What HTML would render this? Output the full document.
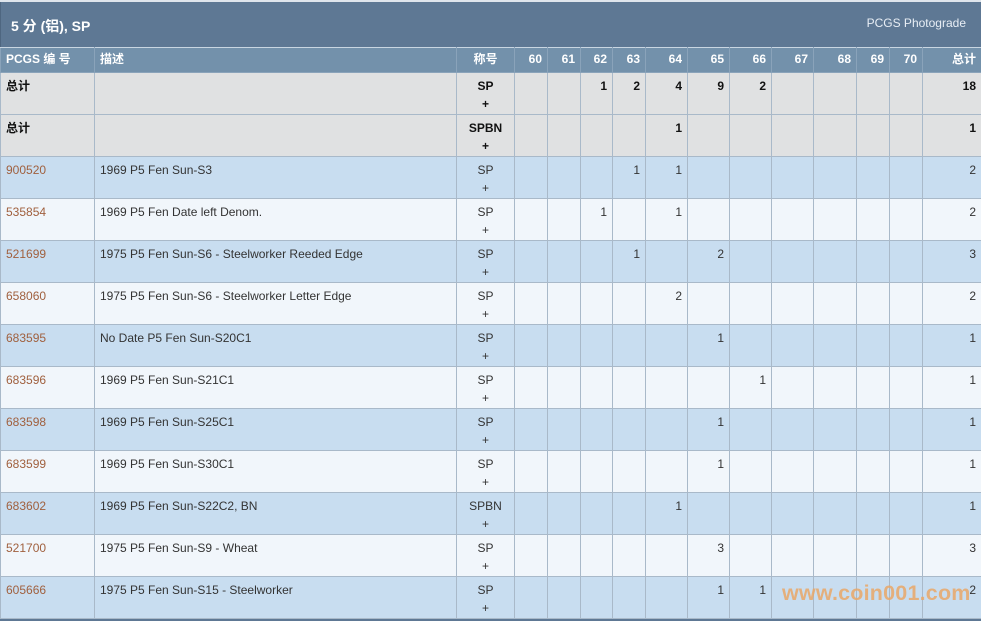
<!DOCTYPE html>
<html><head><meta charset="utf-8"><style>
body{margin:0;width:981px;height:621px;overflow:hidden;background:#fff;font-family:"Liberation Sans","Noto Sans CJK SC",sans-serif;position:relative}
.top{position:absolute;left:0;top:0;width:981px;height:2px;background:#dfe5ec}
.title{position:absolute;left:0;top:2px;width:980px;height:45px;background:#5e7894;color:#fff;border-left:1px solid #4e6680}
.title .l{position:absolute;left:10px;top:14px;font-size:14px;font-weight:bold}
.title .r{position:absolute;right:15px;top:14px;font-size:12px;color:#e8eef5}
table{position:absolute;left:0;top:47px;border-collapse:collapse;table-layout:fixed;width:981px;font-size:12px}
td,th{border:1px solid #a9b9c9;vertical-align:top;padding:4px 5px 0 5px;line-height:18px;overflow:hidden;white-space:nowrap}
th{background:#7391ab;color:#fff;height:22px;padding-top:3px;padding-bottom:0;text-align:right;border-color:#8aa3ba;border-top:1px solid #c9d6e2;box-sizing:border-box;line-height:16px}
th.l{text-align:left}th.c{text-align:center}
tr.h td{height:37px}
tr.t td{background:#e0e1e2;font-weight:bold;color:#111}
tr.a td{background:#c8ddf0;color:#333}
tr.b td{background:#f1f6fb;color:#333}
td.n{text-align:right}
td.c{text-align:center}
a{color:#a0603e;text-decoration:none}
.wm{position:absolute;left:782px;top:581px;font-size:21.5px;font-weight:bold;color:#e9a868;opacity:.85;letter-spacing:0.2px}
.bot{position:absolute;left:0;top:619px;width:981px;height:2px;background:#5e7894}
</style></head><body>
<div class="top"></div>
<div class="title"><span class="l">5 分 (铝), SP</span><span class="r">PCGS Photograde</span></div>
<table>
<colgroup><col style="width:94px"><col style="width:362px"><col style="width:58px"><col style="width:33px"><col style="width:33px"><col style="width:32px"><col style="width:33px"><col style="width:42px"><col style="width:42px"><col style="width:42px"><col style="width:42px"><col style="width:43px"><col style="width:33px"><col style="width:33px"><col style="width:59px"></colgroup>
<tr style="height:25px"><th class="l">PCGS 编 号</th><th class="l">描述</th><th class="c">称号</th><th>60</th><th>61</th><th>62</th><th>63</th><th>64</th><th>65</th><th>66</th><th>67</th><th>68</th><th>69</th><th>70</th><th>总计</th></tr>
<tr class="h t"><td>总计</td><td></td><td class="c">SP<br>+</td><td></td><td></td><td class="n">1</td><td class="n">2</td><td class="n">4</td><td class="n">9</td><td class="n">2</td><td></td><td></td><td></td><td></td><td class="n">18</td></tr>
<tr class="h t"><td>总计</td><td></td><td class="c">SPBN<br>+</td><td></td><td></td><td></td><td></td><td class="n">1</td><td></td><td></td><td></td><td></td><td></td><td></td><td class="n">1</td></tr>
<tr class="h a"><td><a>900520</a></td><td>1969 P5 Fen Sun-S3</td><td class="c">SP<br>+</td><td></td><td></td><td></td><td class="n">1</td><td class="n">1</td><td></td><td></td><td></td><td></td><td></td><td></td><td class="n">2</td></tr>
<tr class="h b"><td><a>535854</a></td><td>1969 P5 Fen Date left Denom.</td><td class="c">SP<br>+</td><td></td><td></td><td class="n">1</td><td></td><td class="n">1</td><td></td><td></td><td></td><td></td><td></td><td></td><td class="n">2</td></tr>
<tr class="h a"><td><a>521699</a></td><td>1975 P5 Fen Sun-S6 - Steelworker Reeded Edge</td><td class="c">SP<br>+</td><td></td><td></td><td></td><td class="n">1</td><td></td><td class="n">2</td><td></td><td></td><td></td><td></td><td></td><td class="n">3</td></tr>
<tr class="h b"><td><a>658060</a></td><td>1975 P5 Fen Sun-S6 - Steelworker Letter Edge</td><td class="c">SP<br>+</td><td></td><td></td><td></td><td></td><td class="n">2</td><td></td><td></td><td></td><td></td><td></td><td></td><td class="n">2</td></tr>
<tr class="h a"><td><a>683595</a></td><td>No Date P5 Fen Sun-S20C1</td><td class="c">SP<br>+</td><td></td><td></td><td></td><td></td><td></td><td class="n">1</td><td></td><td></td><td></td><td></td><td></td><td class="n">1</td></tr>
<tr class="h b"><td><a>683596</a></td><td>1969 P5 Fen Sun-S21C1</td><td class="c">SP<br>+</td><td></td><td></td><td></td><td></td><td></td><td></td><td class="n">1</td><td></td><td></td><td></td><td></td><td class="n">1</td></tr>
<tr class="h a"><td><a>683598</a></td><td>1969 P5 Fen Sun-S25C1</td><td class="c">SP<br>+</td><td></td><td></td><td></td><td></td><td></td><td class="n">1</td><td></td><td></td><td></td><td></td><td></td><td class="n">1</td></tr>
<tr class="h b"><td><a>683599</a></td><td>1969 P5 Fen Sun-S30C1</td><td class="c">SP<br>+</td><td></td><td></td><td></td><td></td><td></td><td class="n">1</td><td></td><td></td><td></td><td></td><td></td><td class="n">1</td></tr>
<tr class="h a"><td><a>683602</a></td><td>1969 P5 Fen Sun-S22C2, BN</td><td class="c">SPBN<br>+</td><td></td><td></td><td></td><td></td><td class="n">1</td><td></td><td></td><td></td><td></td><td></td><td></td><td class="n">1</td></tr>
<tr class="h b"><td><a>521700</a></td><td>1975 P5 Fen Sun-S9 - Wheat</td><td class="c">SP<br>+</td><td></td><td></td><td></td><td></td><td></td><td class="n">3</td><td></td><td></td><td></td><td></td><td></td><td class="n">3</td></tr>
<tr class="h a"><td><a>605666</a></td><td>1975 P5 Fen Sun-S15 - Steelworker</td><td class="c">SP<br>+</td><td></td><td></td><td></td><td></td><td></td><td class="n">1</td><td class="n">1</td><td></td><td></td><td></td><td></td><td class="n">2</td></tr>
</table>
<div class="wm">www.coin001.com</div>
<div class="bot"></div>
</body></html>
